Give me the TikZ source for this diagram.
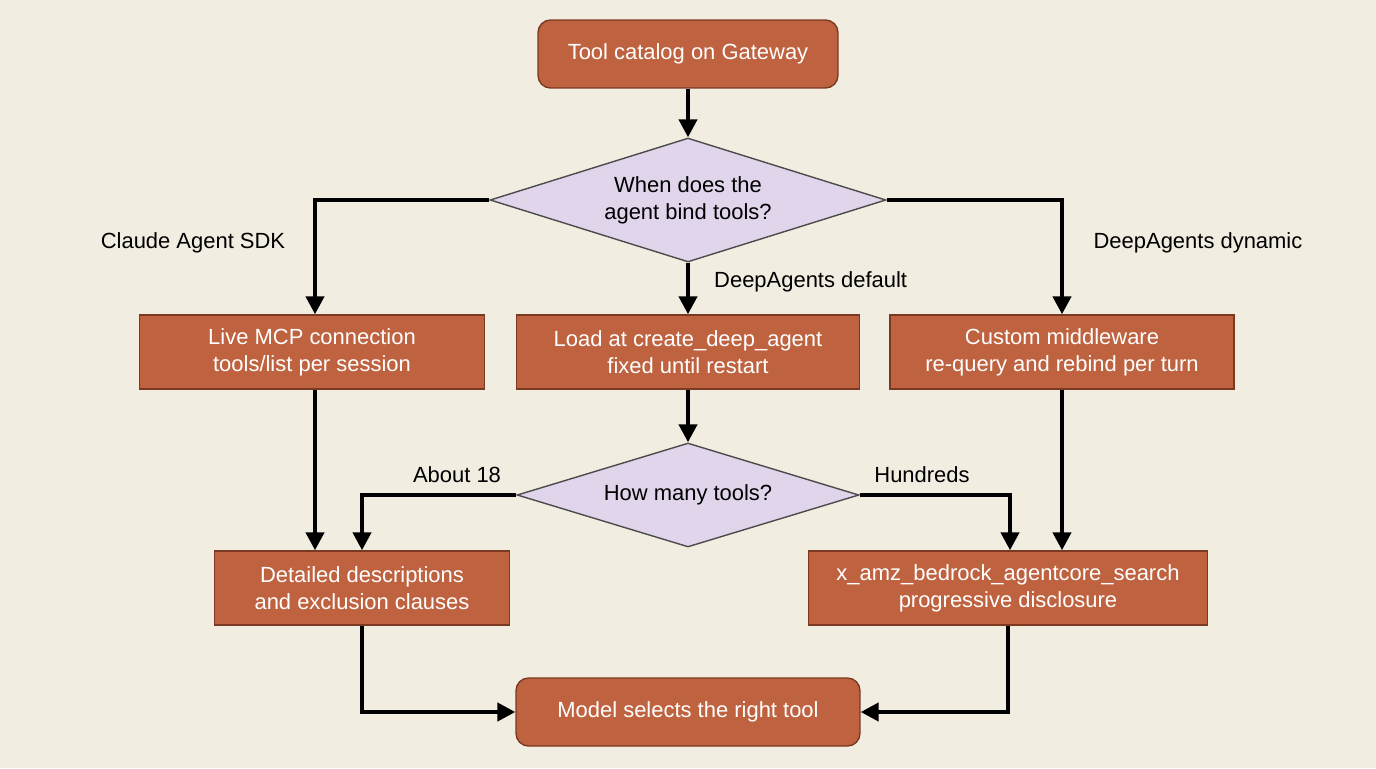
\documentclass[tikz,border=0pt]{standalone}
\usepackage{fontspec}
\setmainfont{Liberation Sans}
\usetikzlibrary{shapes.geometric,arrows.meta}
\definecolor{boxfill}{HTML}{BF6240}
\definecolor{boxline}{HTML}{7A3A22}
\definecolor{decfill}{HTML}{E0D5EB}
\definecolor{paper}{HTML}{F2EDE1}
\tikzset{
  proc/.style={draw=boxline,fill=boxfill,text=white,thick,align=center,
    minimum height=1.48cm,font=\fontsize{12.5}{15.5}\selectfont},
  term/.style={proc,rounded corners=0.25cm,minimum height=1.36cm},
  decide/.style={diamond,aspect=3.2,draw=black!70,fill=decfill,thick,align=center,
    inner sep=0pt,font=\fontsize{12.5}{15.5}\selectfont},
  flow/.style={line width=2.4pt,-{Triangle[length=0.36cm,width=0.36cm]}},
  lbl/.style={font=\fontsize{12.5}{15}\selectfont}
}
\begin{document}
\begin{tikzpicture}[x=0.02cm,y=-0.02cm]
\fill[paper] (0,0) rectangle (1376,768);
\useasboundingbox (0,0) rectangle (1376,768);

% nodes
\node[term,minimum width=6cm] (catalog) at (688,54) {Tool catalog on Gateway};
\node[decide,minimum width=7.92cm,minimum height=2.48cm] (bind) at (688,200) {When does the\\agent bind tools?};
\node[proc,minimum width=6.9cm] (live) at (312,352) {Live MCP connection\\tools/list per session};
\node[proc,minimum width=6.86cm] (load) at (688,352) {Load at create\_deep\_agent\\fixed until restart};
\node[proc,minimum width=6.88cm] (custom) at (1062,352) {Custom middleware\\re-query and rebind per turn};
\node[decide,minimum width=6.84cm,minimum height=2.08cm] (many) at (688,495) {How many tools?};
\node[proc,minimum width=5.9cm] (detail) at (362,588) {Detailed descriptions\\and exclusion clauses};
\node[proc,minimum width=7.98cm] (search) at (1008,588) {x\_amz\_bedrock\_agentcore\_search\\progressive disclosure};
\node[term,minimum width=6.88cm] (model) at (688,712) {Model selects the right tool};

% helper points
\coordinate (sdkx) at (315,0);
\coordinate (hunx) at (1010,0);

% connectors
\draw[flow] (bind.west) -| (live.north -| sdkx);
\draw[flow] (catalog) -- (bind);
\draw[flow] (bind.south) -- (load.north);
\draw[flow] (bind.east) -| (custom.north);
\draw[flow] (load) -- (many);
\draw[flow] (live.south -| sdkx) -- (detail.north -| sdkx);
\draw[flow] (many.west) -| (detail.north);
\draw[flow] (many.east) -| (search.north -| hunx);
\draw[flow] (custom.south) -- (search.north -| custom.south);
\draw[flow] (detail.south) |- (model.west);
\draw[flow] (search.south) |- (model.east);

% labels
\node[lbl] (lsdk) at (193,243) {Claude Agent SDK};
\node[lbl,anchor=west] (ldef) at (708,282) {DeepAgents default};
\node[lbl] (ldyn) at (1198,243) {DeepAgents dynamic};
\node[lbl] (l18) at (457,475) {About 18};
\node[lbl] (lhund) at (922,475) {Hundreds};
\end{tikzpicture}
\end{document}
